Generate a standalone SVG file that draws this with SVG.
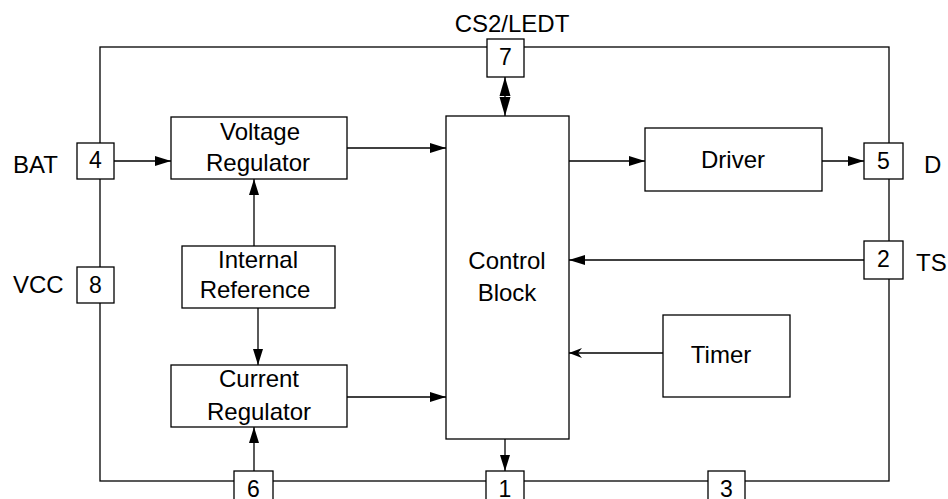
<svg xmlns="http://www.w3.org/2000/svg" width="948" height="499" viewBox="0 0 948 499">
<style>
.box{fill:#fff;stroke:#000;stroke-width:1.3}
.ln{fill:none;stroke:#000;stroke-width:1.3}
.t{font-family:"Liberation Sans",Arial,sans-serif;font-size:24px;fill:#000;text-anchor:middle}
.p{font-family:"Liberation Sans",Arial,sans-serif;font-size:23px;fill:#000;text-anchor:middle}
.lbl{font-family:"Liberation Sans",Arial,sans-serif;font-size:24px;fill:#000}
</style>
<defs>
<marker id="ah" markerUnits="userSpaceOnUse" markerWidth="17" markerHeight="11" refX="16" refY="5.5" orient="auto" viewBox="0 0 17 11">
<path d="M0,0.5 L16,5.5 L0,10.5 z" fill="#000"/>
</marker>
<marker id="ab" markerUnits="userSpaceOnUse" markerWidth="20" markerHeight="12" refX="19" refY="6" orient="auto-start-reverse" viewBox="0 0 20 12">
<path d="M0,0.5 L19,6 L0,11.5 z" fill="#000"/>
</marker>
<marker id="as" markerUnits="userSpaceOnUse" markerWidth="14" markerHeight="12" refX="13" refY="6" orient="auto" viewBox="0 0 14 12">
<path d="M0,1 L13,6 L0,11 L4,6 z" fill="#000"/>
</marker>
</defs>
<g id="frame">
<rect class="ln" x="100" y="47" width="789" height="434"/>
</g>
<g id="connectors">
<line class="ln" x1="114" y1="161" x2="171" y2="161" marker-end="url(#ah)"/>
<line class="ln" x1="347" y1="148" x2="446" y2="148" marker-end="url(#ah)"/>
<line class="ln" x1="254" y1="246" x2="254" y2="179" marker-end="url(#ah)"/>
<line class="ln" x1="258" y1="308" x2="258" y2="365" marker-end="url(#ah)"/>
<line class="ln" x1="347" y1="397" x2="446" y2="397" marker-end="url(#ah)"/>
<line class="ln" x1="254" y1="471" x2="254" y2="427" marker-end="url(#ah)"/>
<line class="ln" x1="505" y1="439" x2="505" y2="471" marker-end="url(#ah)"/>
<line class="ln" x1="505" y1="77" x2="505" y2="116" marker-start="url(#ab)" marker-end="url(#ab)"/>
<line class="ln" x1="569" y1="161" x2="645" y2="161" marker-end="url(#ah)"/>
<line class="ln" x1="822" y1="161" x2="864" y2="161" marker-end="url(#ah)"/>
<line class="ln" x1="864" y1="260" x2="569" y2="260" marker-end="url(#ah)"/>
<line class="ln" x1="663" y1="353" x2="569" y2="353" marker-end="url(#as)"/>
</g>
<g id="voltage-regulator">
<rect class="box" x="171" y="117" width="176" height="62"/>
<text class="t" x="260" y="140">Voltage</text>
<text class="t" x="258" y="171">Regulator</text>
</g>
<g id="internal-reference">
<rect class="box" x="182" y="246" width="153" height="62"/>
<text class="t" x="258" y="268">Internal</text>
<text class="t" x="255" y="298">Reference</text>
</g>
<g id="current-regulator">
<rect class="box" x="171" y="365" width="176" height="62"/>
<text class="t" x="259" y="387">Current</text>
<text class="t" x="259" y="420">Regulator</text>
</g>
<g id="control-block">
<rect class="box" x="446" y="116" width="123" height="323"/>
<text class="t" x="507" y="269">Control</text>
<text class="t" x="507" y="301">Block</text>
</g>
<g id="driver">
<rect class="box" x="645" y="128" width="177" height="63"/>
<text class="t" x="733" y="168">Driver</text>
</g>
<g id="timer">
<rect class="box" x="663" y="315" width="127" height="82"/>
<text class="t" x="721" y="363">Timer</text>
</g>
<g id="pin4">
<rect class="box" x="77" y="143" width="37" height="36"/>
<text class="p" x="95.5" y="168">4</text>
<text class="lbl" x="13" y="173">BAT</text>
</g>
<g id="pin8">
<rect class="box" x="77" y="267" width="37" height="36"/>
<text class="p" x="95.5" y="293">8</text>
<text class="lbl" x="13" y="293">VCC</text>
</g>
<g id="pin7">
<rect class="box" x="487" y="39" width="37" height="38"/>
<text class="p" x="505.5" y="65">7</text>
<text class="t" x="512" y="32">CS2/LEDT</text>
</g>
<g id="pin5">
<rect class="box" x="864" y="143" width="39" height="36"/>
<text class="p" x="883.5" y="169">5</text>
<text class="lbl" x="924" y="173">D</text>
</g>
<g id="pin2">
<rect class="box" x="864" y="241" width="39" height="38"/>
<text class="p" x="883.5" y="267">2</text>
<text class="lbl" x="916" y="271">TS</text>
</g>
<g id="pin6">
<rect class="box" x="234" y="471" width="39" height="37"/>
<text class="p" x="253.5" y="497">6</text>
</g>
<g id="pin1">
<rect class="box" x="486" y="471" width="38" height="37"/>
<text class="p" x="505" y="497">1</text>
</g>
<g id="pin3">
<rect class="box" x="708" y="471" width="37" height="37"/>
<text class="p" x="726.5" y="497">3</text>
</g>
</svg>
